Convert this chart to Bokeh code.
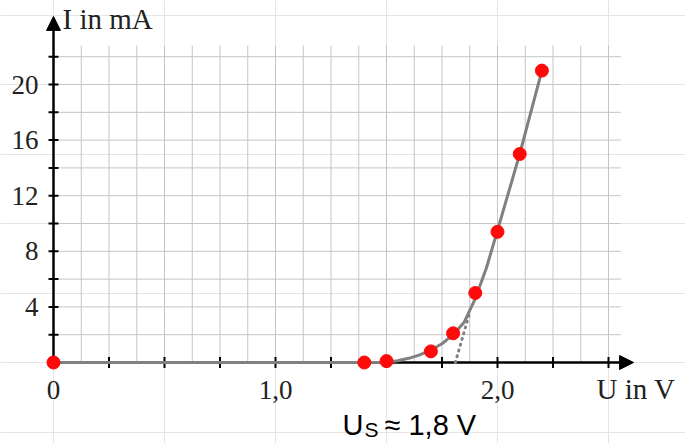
import numpy as np
from bokeh.plotting import figure
from bokeh.models import Range1d, Arrow, NormalHead, ColumnDataSource
from bokeh.core.properties import value
from bokeh.embed import file_html
from bokeh.resources import INLINE

# ---- data ----
U_MEAS = [0.0, 1.4, 1.5, 1.7, 1.8, 1.9, 2.0, 2.1, 2.2]
I_MEAS = [0.0, 0.0, 0.1, 0.8, 2.1, 5.0, 9.4, 15.0, 21.0]

U_CURVE = [0.0, 1.4, 1.5, 1.55, 1.6, 1.65, 1.7, 1.75, 1.8, 1.85, 1.9, 1.95, 2.0, 2.1, 2.2]
I_CURVE = [0.0, 0.0, 0.02, 0.12, 0.3, 0.55, 0.9, 1.35, 2.0, 2.9, 4.6, 6.8, 9.5, 15.0, 21.0]

U_TANGENT = [1.81, 1.875]
I_TANGENT = [0.0, 3.6]

X_TICK_VALUES = [0.0, 1.0, 2.0]
X_TICK_LABELS = ["0", "1,0", "2,0"]
Y_TICK_VALUES = [4, 8, 12, 16, 20]
Y_TICK_LABELS = ["4", "8", "12", "16", "20"]

X_TITLE = "U in V"
Y_TITLE = "I in mA"
NOTE_MAIN = "U"
NOTE_SUB = "S"
NOTE_REST = "\u2248 1,8 V"

# ---- layout ----
W, H = 685, 443
SX = 222.0   # px per V
SY = 13.9    # px per mA
X0 = -53 / SX
X1 = X0 + W / SX
Y1 = 362 / SY
Y0 = Y1 - H / SY


def px_x(px):
    return (px - 53) / SX


def px_y(py):
    return (362 - py) / SY


p = figure(width=W, height=H, x_range=Range1d(X0, X1), y_range=Range1d(Y0, Y1),
           output_backend="svg", toolbar_location=None,
           x_axis_location=None, y_axis_location=None, min_border=0)
p.outline_line_color = None
p.background_fill_color = "white"
p.border_fill_color = "white"

# grid
gx = np.arange(0.125, 2.5001, 0.125)
gy = np.arange(2, 22.001, 2)
GRID_TOP = 22.8
GRID_RIGHT = 2.555
p.segment(x0=gx, y0=np.zeros_like(gx), x1=gx, y1=np.full_like(gx, GRID_TOP),
          line_color="#c4c4c4", line_width=1)
p.segment(x0=np.zeros_like(gy), y0=gy, x1=np.full_like(gy, GRID_RIGHT), y1=gy,
          line_color="#c4c4c4", line_width=1)

# axes lines
X_AX_END = 2.613
Y_AX_END = 24.9
p.segment(x0=[0, 0], y0=[0, 0], x1=[X_AX_END - 0.03, 0], y1=[0, Y_AX_END - 0.6],
          line_color="black", line_width=2.5)
p.add_layout(Arrow(end=NormalHead(size=14, fill_color="black", line_color="black"),
                   x_start=X_AX_END - 0.06, y_start=0, x_end=X_AX_END, y_end=0,
                   line_color="black", line_width=2.5))
p.add_layout(Arrow(end=NormalHead(size=14, fill_color="black", line_color="black"),
                   x_start=0, y_start=Y_AX_END - 1.0, x_end=0, y_end=Y_AX_END,
                   line_color="black", line_width=2.5))

# ticks
tx = np.arange(0.25, 2.5001, 0.25)
ty = np.arange(2, 22.001, 2)
dx = 5 / SX
dy = 5.5 / SY
p.segment(x0=tx, y0=np.full_like(tx, -dy), x1=tx, y1=np.full_like(tx, dy),
          line_color="black", line_width=2)
p.segment(x0=np.full_like(ty, -dx), y0=ty, x1=np.full_like(ty, dx), y1=ty,
          line_color="black", line_width=2)

# curve, tangent, points
p.line(U_CURVE, I_CURVE, line_color="#808080", line_width=3)
p.line(U_TANGENT, I_TANGENT, line_color="#808080", line_width=3,
       line_dash="1 5", line_cap="round")
p.scatter(U_MEAS, I_MEAS, size=13, fill_color="#ff0a0a", line_color="#ff0a0a")

serif = value("Liberation Serif")
# tick labels
xs = ColumnDataSource(dict(x=X_TICK_VALUES, y=[px_y(389)] * len(X_TICK_VALUES), t=X_TICK_LABELS))
p.text(x="x", y="y", text="t", source=xs, text_font=serif, text_font_size="27px",
       text_align="center", text_baseline="middle", text_color="#222222")
ys = ColumnDataSource(dict(x=[px_x(38)] * len(Y_TICK_VALUES), y=Y_TICK_VALUES, t=Y_TICK_LABELS))
p.text(x="x", y="y", text="t", source=ys, text_font=serif, text_font_size="27px",
       text_align="right", text_baseline="middle", text_color="#222222")

# axis titles
p.text(x=[px_x(596)], y=[px_y(388)], text=[X_TITLE], text_font=serif,
       text_font_size="29px", text_align="left", text_baseline="middle",
       text_color="#222222")
p.text(x=[px_x(62)], y=[px_y(18)], text=[Y_TITLE], text_font=serif,
       text_font_size="29px", text_align="left", text_baseline="middle",
       text_color="#222222")

# note
sans = value("Liberation Sans")
p.text(x=[px_x(342)], y=[px_y(424)], text=[NOTE_MAIN], text_font=sans,
       text_font_size="29px", text_align="left", text_baseline="middle", text_color="black")
p.text(x=[px_x(364)], y=[px_y(429)], text=[NOTE_SUB], text_font=sans,
       text_font_size="21px", text_align="left", text_baseline="middle", text_color="black")
p.text(x=[px_x(384)], y=[px_y(424)], text=[NOTE_REST], text_font=sans,
       text_font_size="29px", text_align="left", text_baseline="middle", text_color="black")

open("out.html", "w").write(file_html(p, INLINE))
